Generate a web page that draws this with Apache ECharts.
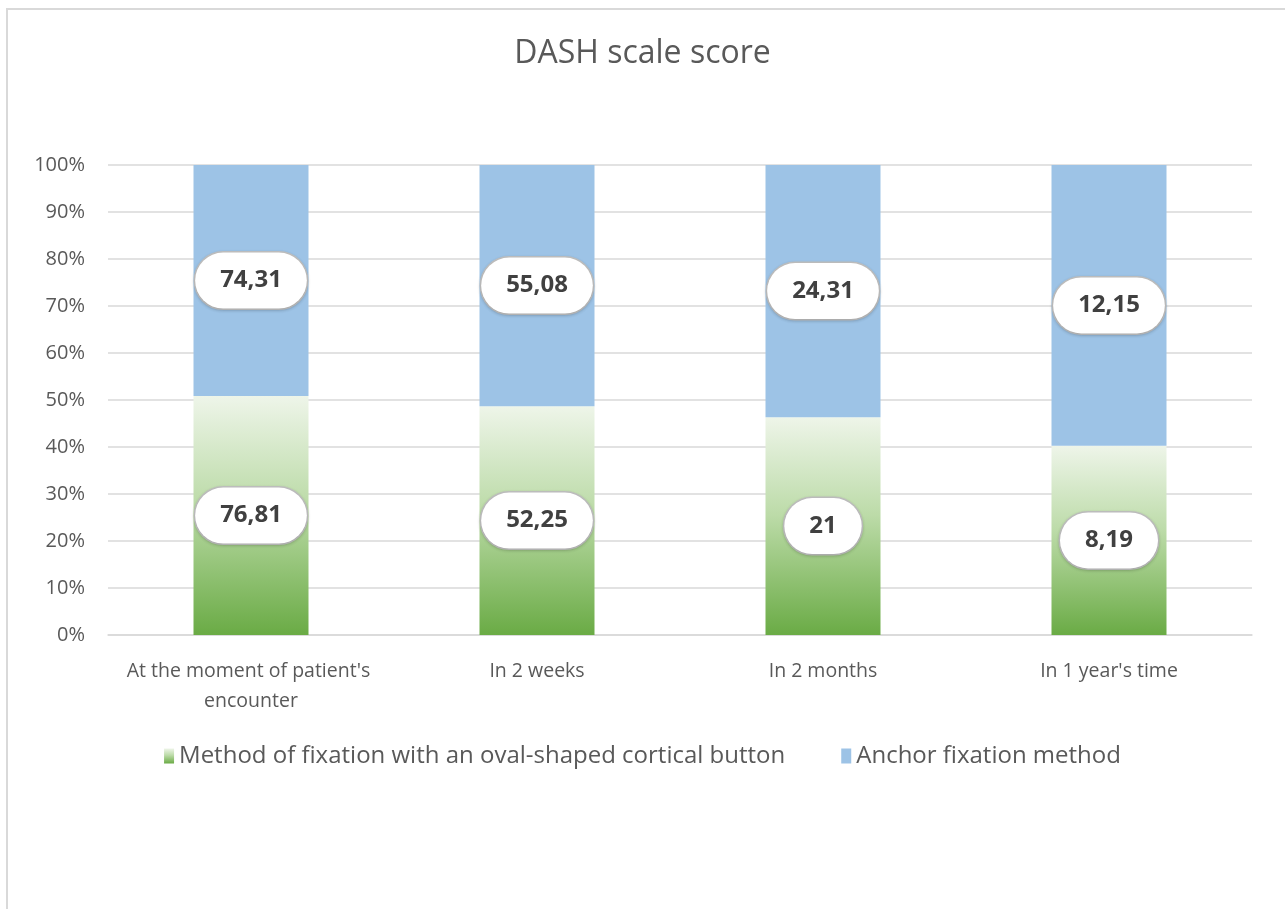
<!DOCTYPE html>
<html>
<head>
<meta charset="utf-8">
<script src="https://cdn.jsdelivr.net/npm/echarts@6/dist/echarts.min.js"></script>
<style>
html, body { margin: 0; padding: 0; background: #fff; }
#chart { width: 1285px; height: 909px; }
</style>
</head>
<body>
<div id="chart"></div>
<script>
const categories = ["At the moment of patient's encounter", "In 2 weeks", "In 2 months", "In 1 year's time"]
const buttonScores = [76.81, 52.25, 21, 8.19]
const anchorScores = [74.31, 55.08, 24.31, 12.15]
const yTicks = [0, 10, 20, 30, 40, 50, 60, 70, 80, 90, 100]

// 100% stacked: share of each series in the column
const totals = buttonScores.map((v, i) => v + anchorScores[i])
const buttonPct = buttonScores.map((v, i) => (v / totals[i]) * 100)
const anchorPct = anchorScores.map((v, i) => (v / totals[i]) * 100)

const fontFamily = "'Open Sans', sans-serif"
const fmt = (v) => String(v).replace(".", ",")

const bubble = {
	show: true,
	position: "inside",
	fontFamily: fontFamily,
	fontSize: 24,
	fontWeight: "bold",
	color: "#404040",
	backgroundColor: "#fff",
	borderColor: "#bfbfbf",
	borderWidth: 1.5,
	borderRadius: 30,
	padding: [16, 25],
	shadowColor: "rgba(0,0,0,0.15)",
	shadowBlur: 3,
	shadowOffsetY: 1
}

const chart = echarts.init(document.getElementById("chart"))

const option = {
	backgroundColor: "#fff",
	animation: false,
	title: {
		text: "DASH scale score",
		left: "center",
		top: 33,
		textStyle: {
			fontFamily: fontFamily,
			fontSize: 32,
			fontWeight: "normal",
			color: "#595959"
		}
	},
	legend: {
		top: 739,
		left: "center",
		icon: "rect",
		itemWidth: 10,
		itemHeight: 15,
		itemGap: 56,
		textStyle: {
			fontFamily: fontFamily,
			fontSize: 24,
			color: "#595959"
		},
		data: ["Method of fixation with an oval-shaped cortical button", "Anchor fixation method"]
	},
	grid: {
		left: 108,
		right: 33,
		top: 165,
		bottom: 274
	},
	xAxis: {
		type: "category",
		data: categories,
		axisLine: { lineStyle: { color: "#d9d9d9", width: 1.5 } },
		axisTick: { show: false },
		axisLabel: {
			interval: 0,
			margin: 21,
			width: 270,
			overflow: "break",
			lineHeight: 30,
			fontFamily: fontFamily,
			fontSize: 19.5,
			color: "#595959"
		}
	},
	yAxis: {
		type: "value",
		min: 0,
		max: 100,
		interval: 10,
		axisLine: { show: false },
		axisTick: { show: false },
		splitLine: { lineStyle: { color: "#d9d9d9", width: 1.5 } },
		axisLabel: {
			margin: 23,
			fontFamily: fontFamily,
			fontSize: 20,
			color: "#595959",
			formatter: (v) => (yTicks.includes(v) ? v + "%" : "")
		}
	},
	graphic: [
		{
			type: "polyline",
			silent: true,
			shape: { points: [[7, 909], [7, 9], [1285, 9]] },
			style: { stroke: "#d9d9d9", lineWidth: 2, fill: null }
		}
	],
	series: [
		{
			name: "Method of fixation with an oval-shaped cortical button",
			type: "bar",
			stack: "total",
			barWidth: 115,
			itemStyle: {
				color: new echarts.graphic.LinearGradient(0, 0, 0, 1, [
					{ offset: 0, color: "#eef5e9" },
					{ offset: 0.45, color: "#bcdba8" },
					{ offset: 1, color: "#6aab45" }
				])
			},
			label: Object.assign({}, bubble, {
				formatter: (p) => fmt(buttonScores[p.dataIndex])
			}),
			data: buttonPct
		},
		{
			name: "Anchor fixation method",
			type: "bar",
			stack: "total",
			barWidth: 115,
			itemStyle: { color: "#9dc3e6" },
			label: Object.assign({}, bubble, {
				formatter: (p) => fmt(anchorScores[p.dataIndex])
			}),
			data: anchorPct
		}
	]
}
chart.setOption(option)
</script>
</body>
</html>
